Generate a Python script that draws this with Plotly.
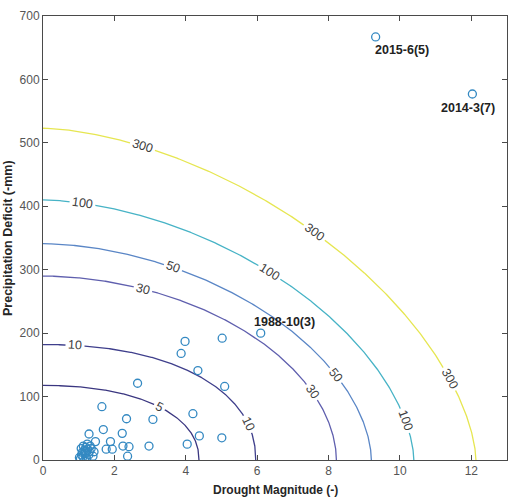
import numpy as np
import plotly.graph_objects as go

# ---------------- data ----------------
# contour levels (return period) with axis intercepts
levels = [5, 10, 30, 50, 100, 300]
x_intercept = [4.37, 5.96, 8.22, 9.20, 10.39, 12.13]
y_intercept = [117.5, 182.0, 290.0, 341.0, 410.0, 523.0]
shape_exp = [2.2, 2.2, 1.9, 1.8, 1.72, 1.65]
level_colors = ["#3a3680", "#3f3f8c", "#5f5fae", "#5a86c6", "#47b3c6", "#e6e651"]
# x positions of inline contour labels
label_x = {
    5: [3.27],
    10: [0.9, 5.75],
    30: [2.8, 7.55],
    50: [3.64, 8.2],
    100: [1.1, 6.35, 10.15],
    300: [2.8, 7.6, 11.4],
}

# drought events: magnitude (-) and precipitation deficit (mm)
magnitude = [3.98, 3.87, 5.02, 4.34, 5.09, 2.65, 1.65, 4.20, 2.34, 3.08,
             1.69, 1.29, 2.22, 4.38, 5.01, 1.47, 1.89, 2.24, 2.41, 2.97,
             4.04, 1.77, 1.94, 2.37, 1.43, 6.10, 9.32, 12.03,
             1.05, 1.08, 1.10, 1.12, 1.15, 1.18, 1.20, 1.22, 1.25, 1.13,
             1.28, 1.30, 1.35, 1.40, 1.17, 1.07, 1.24, 1.32, 1.02, 1.19]
deficit = [187, 168, 192, 141, 116, 121, 84, 73, 65, 64,
           48, 41, 42, 38, 35, 29, 29, 22, 21, 22,
           25, 17, 17, 6, 13, 200, 667, 577,
           2, 8, 12, 5, 15, 10, 20, 3, 17, 22,
           8, 13, 18, 6, 0, 18, 25, 22, 4, 14]

event_labels = ["2015-6(5)", "2014-3(7)", "1988-10(3)"]
event_label_x = [10.07, 11.91, 6.77]
event_label_y = [646, 555, 217]

x_ticks = [0, 2, 4, 6, 8, 10, 12]
y_ticks = [0, 100, 200, 300, 400, 500, 600, 700]

# ---------------- figure ----------------
W, H = 517, 497
ML, MR, MT, MB = 43, 9, 13, 37
XR, YR = [0, 13], [0, 700]
pw, ph = W - ML - MR, H - MT - MB
sx, sy = pw / (XR[1] - XR[0]), ph / (YR[1] - YR[0])

fig = go.Figure()


def curve_y(x, a, b, p):
    v = 1 - (np.clip(x, 0, a) / a) ** p
    return b * np.clip(v, 0, 1) ** (1 / p)


annotations = []
for lev, a, b, p, col in zip(levels, x_intercept, y_intercept, shape_exp, level_colors):
    t = np.linspace(0, np.pi / 2, 400)
    xs = a * np.cos(t) ** (2 / p)
    ys = b * np.sin(t) ** (2 / p)
    fig.add_trace(go.Scatter(x=xs, y=ys, mode="lines",
                             line=dict(color=col, width=1.3),
                             hoverinfo="skip", showlegend=False))
    for lx in label_x[lev]:
        ly = curve_y(lx, a, b, p)
        dx = 0.01
        y2 = curve_y(lx + dx, a, b, p)
        y1 = curve_y(lx - dx, a, b, p)
        ang = np.degrees(np.arctan2(-(y2 - y1) * sy, 2 * dx * sx))
        annotations.append(dict(x=lx, y=ly, xref="x", yref="y", text=str(lev),
                                showarrow=False, textangle=ang,
                                font=dict(size=12.5, color="#404040",
                                          family="Liberation Sans"),
                                bgcolor="white", borderpad=2))

fig.add_trace(go.Scatter(x=magnitude, y=deficit, mode="markers",
                         marker=dict(symbol="circle-open", size=8,
                                     color="#3489c2", line=dict(width=1.3)),
                         hoverinfo="skip", showlegend=False))

for txt, tx, ty in zip(event_labels, event_label_x, event_label_y):
    annotations.append(dict(x=tx, y=ty, xref="x", yref="y", text="<b>" + txt + "</b>",
                            showarrow=False,
                            font=dict(size=12.5, color="#222222", family="Liberation Sans")))

annotations.append(dict(x=0.5, y=0, xref="paper", yref="paper", yanchor="top",
                        yshift=-21, text="<b>Drought Magnitude (-)</b>", showarrow=False,
                        font=dict(size=12, color="#262626", family="Liberation Sans")))
annotations.append(dict(x=0, y=0.5, xref="paper", yref="paper", xanchor="center",
                        xshift=-35, textangle=-90,
                        text="<b>Precipitation Deficit (-mm)</b>", showarrow=False,
                        font=dict(size=12.5, color="#262626", family="Liberation Sans")))

axis_common = dict(showgrid=False, zeroline=False, showline=True, linecolor="#4a4a4a",
                   linewidth=1, mirror="ticks", ticks="inside", ticklen=5,
                   tickcolor="#4a4a4a", tickfont=dict(size=12, color="#555555",
                                                      family="Liberation Sans"))
fig.update_xaxes(range=XR, tickvals=x_ticks, **axis_common)
fig.update_yaxes(range=YR, tickvals=y_ticks, **axis_common)

fig.update_layout(width=W, height=H, margin=dict(l=ML, r=MR, t=MT, b=MB),
                  plot_bgcolor="white", paper_bgcolor="white",
                  annotations=annotations, showlegend=False)

fig.write_html("out.html")
